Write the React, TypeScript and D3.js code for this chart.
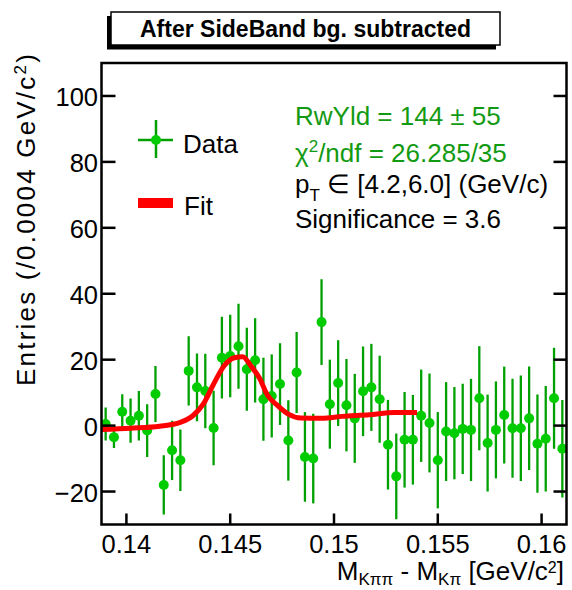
import React from "react";
import * as d3 from "d3";

const binCenters: number[] = Array.from({ length: 56 }, (_, i) => +(0.139 + 0.0004 * i).toFixed(4));
const dataValues: number[] = [
  0.5, -3.5, 4.2, 1.5, 3.0, -1.5, 9.6, -18, -7.5, -10.5,
  16.6, 11.6, 10.5, -0.7, 20.6, 21.1, 24.1, 17.1, 19.8, 8.0,
  9.0, 12.6, -4.5, 16.1, -9.5, -10.0, 31.4, 6.5, 12.9, 6.2,
  2.2, 10.4, 11.6, 8.0, -5.8, -15.4, -4.3, -4.3, 3.0, 0.8,
  -10.5, -1.8, -2.3, -1.0, -1.3, 8.3, -5.3, -1.3, 3.2, -0.8,
  -0.8, 2.2, -5.5, -4.0, 8.3, -7.0,
];
const dataErrors: number[] = [
  5, 3.3, 5.3, 6.7, 7.5, 8.0, 8.5, 9, 9, 9.3,
  10.5, 10.3, 11.3, 11.3, 12.4, 12.5, 12.9, 12.6, 12.8, 12.6,
  12.6, 12.4, 12.2, 12.3, 13.6, 13.6, 13.0, 13.5, 13.0, 14.0,
  13.5, 13.6, 13.2, 13.2, 13.6, 13.0, 14.5, 13.6, 14.0, 15.0,
  14.6, 15.0, 14.0, 13.7, 15.5, 15.8, 14.7, 14.7, 14.7, 15.0,
  16.0, 15.7, 14.9, 16.0, 15.3, 14.8,
];
const fitX: number[] = [
  0.1388, 0.1402, 0.1416, 0.1426, 0.1432, 0.1437, 0.1442, 0.1447, 0.1452, 0.1456,
  0.146, 0.1464, 0.1468, 0.1473, 0.1478, 0.1484, 0.1494, 0.1504, 0.1517, 0.1529, 0.154,
];
const fitY: number[] = [
  -1.2, -0.8, -0.2, 1.0, 3.0, 6.5, 12.6, 18.1, 20.6, 20.9,
  18.1, 14.5, 9.2, 6.0, 3.5, 2.3, 2.2, 2.8, 3.3, 4.0, 4.0,
];
const xTicks: number[] = [0.14, 0.145, 0.15, 0.155, 0.16];
const xTickLabels: string[] = ["0.14", "0.145", "0.15", "0.155", "0.16"];
const yTicks: number[] = [-20, 0, 20, 40, 60, 80, 100];
const yTickLabels: string[] = ["−20", "0", "20", "40", "60", "80", "100"];

const FONT = "'Liberation Sans', Arial, Helvetica, sans-serif";
const GREEN_MK = "#00cc00";
const GREEN_BAR = "#00a000";
const GREEN_TXT = "#139a13";

export default function App() {
  const left = 101.5, right = 566.5, top = 63, bottom = 524.5;
  const x = d3.scaleLinear().domain([0.1388, 0.1612]).range([left, right]);
  const y = d3.scaleLinear().domain([-30, 110]).range([bottom, top]);
  const fitLine = d3
    .line<number>()
    .x((_, i) => x(fitX[i]))
    .y((d) => y(d))
    .curve(d3.curveMonotoneX);

  return (
    <svg
      width={572}
      height={590}
      style={{ position: "absolute", left: 0, top: 0, background: "#fff" }}
      fontFamily={FONT}
    >
      <defs>
        <clipPath id="plotClip">
          <rect x={left} y={top} width={right - left} height={bottom - top} />
        </clipPath>
      </defs>
      <rect x={0} y={0} width={572} height={590} fill="#fff" />

      {/* title box */}
      <rect x={107} y={16} width={389} height={33.5} fill="#000" />
      <rect x={111} y={12} width={389} height={33} fill="#fff" stroke="#000" strokeWidth={1.5} />
      <text x={305.5} y={36.5} textAnchor="middle" fontWeight="bold" fontSize={23}>
        After SideBand bg. subtracted
      </text>

      {/* data */}
      <g clipPath="url(#plotClip)">
        {binCenters.map((c, i) => (
          <line
            key={"e" + i}
            x1={x(c)}
            x2={x(c)}
            y1={y(dataValues[i] - dataErrors[i])}
            y2={y(dataValues[i] + dataErrors[i])}
            stroke={GREEN_BAR}
            strokeWidth={2.3}
          />
        ))}
        {binCenters.map((c, i) => (
          <circle key={"m" + i} cx={x(c)} cy={y(dataValues[i])} r={5} fill={GREEN_MK} />
        ))}
        <path d={fitLine(fitY) || ""} fill="none" stroke="#ff0000" strokeWidth={5} />
      </g>

      {/* frame */}
      <rect x={left} y={top} width={right - left} height={bottom - top} fill="none" stroke="#000" strokeWidth={2.5} />
      {xTicks.map((t, i) => (
        <g key={"xt" + i}>
          <line x1={x(t)} x2={x(t)} y1={bottom} y2={bottom - 11} stroke="#000" strokeWidth={2.5} />
          <text x={x(t)} y={553} textAnchor="middle" fontSize={25.5}>
            {xTickLabels[i]}
          </text>
        </g>
      ))}
      {yTicks.map((t, i) => (
        <g key={"yt" + i}>
          <line x1={left} x2={left + 14} y1={y(t)} y2={y(t)} stroke="#000" strokeWidth={2.5} />
          <line x1={right} x2={right - 13} y1={y(t)} y2={y(t)} stroke="#000" strokeWidth={2.5} />
          <text x={98} y={y(t) + 10} textAnchor="end" fontSize={25.5}>
            {yTickLabels[i]}
          </text>
        </g>
      ))}

      {/* axis titles */}
      <text transform="translate(35,52) rotate(-90)" textAnchor="end" fontSize={26} letterSpacing={2.2}>
        Entries (/0.0004 GeV/c
        <tspan dy={-9} fontSize={17}>2</tspan>
        <tspan dy={9}>)</tspan>
      </text>
      <text x={564} y={580} textAnchor="end" fontSize={26}>
        M<tspan dy={5} fontSize={17}>{"Kππ"}</tspan>
        <tspan dy={-5}>{" - M"}</tspan>
        <tspan dy={5} fontSize={17}>{"Kπ"}</tspan>
        <tspan dy={-5}>{" [GeV/c"}</tspan>
        <tspan dy={-7} fontSize={16}>2</tspan>
        <tspan dy={7}>]</tspan>
      </text>

      {/* legend */}
      <line x1={138} x2={173} y1={140} y2={140} stroke={GREEN_BAR} strokeWidth={2.5} />
      <line x1={156} x2={156} y1={120} y2={158} stroke={GREEN_BAR} strokeWidth={2.5} />
      <circle cx={156} cy={140} r={5} fill={GREEN_MK} />
      <text x={183} y={153} fontSize={26}>Data</text>
      <rect x={138} y={198} width={35} height={10} fill="#ff0000" />
      <text x={184} y={215} fontSize={26}>Fit</text>

      {/* stats */}
      <text x={295} y={125} fontSize={26} fill={GREEN_TXT}>{"RwYld = 144 ± 55"}</text>
      <text x={295} y={161.7} fontSize={26} fill={GREEN_TXT}>
        {"χ"}<tspan dy={-10} fontSize={17}>2</tspan>
        <tspan dy={10}>{"/ndf = 26.285/35"}</tspan>
      </text>
      <text x={295} y={193.3} fontSize={26} fill="#000">
        p<tspan dy={8} fontSize={17}>T</tspan>
        <tspan dy={-8}>{" ∈ [4.2,6.0] (GeV/c)"}</tspan>
      </text>
      <text x={295} y={228.3} fontSize={26} fill="#000">Significance = 3.6</text>
    </svg>
  );
}
